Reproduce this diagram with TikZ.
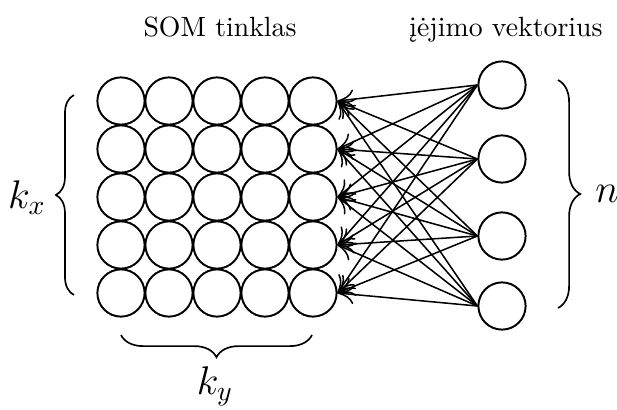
\documentclass[tikz,border=0pt]{standalone}
\usepackage{fontspec}
\usepackage{tikz}
\usetikzlibrary{arrows.meta,decorations.pathreplacing}
\tikzset{
  neuron/.style={draw,circle,line width=0.7pt,minimum size=17pt,inner sep=0pt},
  link/.style={-{To[length=6pt,width=7pt]},line width=0.55pt},
  bracket/.style={decorate,line width=0.6pt,decoration={brace,amplitude=#1}}
}

\begin{document}
\begin{tikzpicture}[x=0.36pt,y=-0.36pt]
  \useasboundingbox (0,0) rectangle (617,409);
  % SOM tinklas
  \foreach \i in {1,...,5}
    \foreach \j in {1,...,5}
      \node[neuron] (s\i\j) at ({73+48*\j},{53+48*\i}) {};
  % ieejimo vektorius
  \foreach \k/\y in {1/85,2/159,3/236,4/306}
    \node[neuron] (in\k) at (502,\y) {};
  \foreach \k in {1,...,4}
    \foreach \i in {1,...,5}
      \draw[link] (in\k.west) -- (s\i5.east);
  \node[anchor=base] (somtitle) at (220,36.5) {SOM tinklas};
  \node[anchor=base] (intitle) at (506,36.5) {įėjimo vektorius};
  \draw[bracket=6.5pt] (74,295) -- (74,95);
  \draw[bracket=8pt] (312,335) -- (121,335);
  \draw[bracket=8pt] (558,80) -- (558,308);
  \node (kx) at (27,198) {\Large $k_x$};
  \node (ky) at (215,386) {\Large $k_y$};
  \node (n) at (607,194) {\Large $n$};
\end{tikzpicture}
\end{document}
